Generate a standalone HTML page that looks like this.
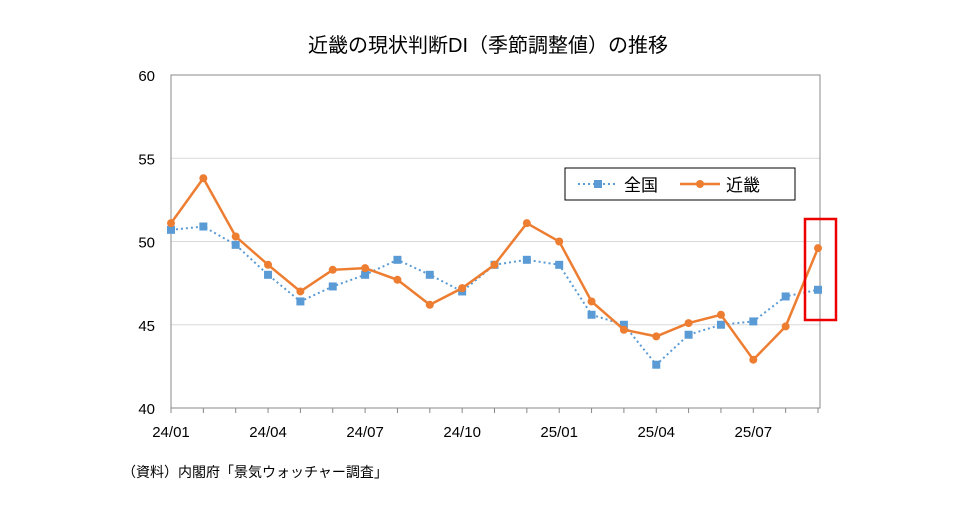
<!DOCTYPE html>
<html><head><meta charset="utf-8"><style>
body{margin:0;background:#fff;}
svg{font-family:"Liberation Sans","Noto Sans CJK JP",sans-serif;}
</style></head><body>
<svg id="c" width="977" height="519"></svg>
<script>
const categories=["24/01","24/02","24/03","24/04","24/05","24/06","24/07","24/08","24/09","24/10","24/11","24/12","25/01","25/02","25/03","25/04","25/05","25/06","25/07","25/08","25/09"];
const zenkoku=[50.7,50.9,49.8,48.0,46.4,47.3,48.0,48.9,48.0,47.0,48.6,48.9,48.6,45.6,45.0,42.6,44.4,45.0,45.2,46.7,47.1];
const kinki=[51.1,53.8,50.3,48.6,47.0,48.3,48.4,47.7,46.2,47.2,48.6,51.1,50.0,46.4,44.7,44.3,45.1,45.6,42.9,44.9,49.6];
const yTicks=[40,45,50,55,60];
const xTickLabels=["24/01","24/04","24/07","24/10","25/01","25/04","25/07"];
const NS="http://www.w3.org/2000/svg";
const svg=document.getElementById('c');
const L=171,R=820,T=75,B=408,step=32.35;
const x=i=>L+i*step;
const y=v=>B-(v-40)/20*(B-T);
function el(t,a,p){const e=document.createElementNS(NS,t);for(const k in a)e.setAttribute(k,a[k]);(p||svg).appendChild(e);return e;}
let t=el('text',{x:488,y:52,'text-anchor':'middle','font-size':20,fill:'#000'});t.textContent='近畿の現状判断DI（季節調整値）の推移';


yTicks.forEach(v=>{
 const g=el('line',{x1:L,x2:R,y1:y(v),y2:y(v),stroke:v==40?'#888':'#d9d9d9'});
 
 
 const tx=el('text',{x:155,y:y(v)+6,'text-anchor':'end','font-size':15});tx.textContent=v;
 
 
});
let ax=el('rect',{x:L,y:T,width:R-L,height:B-T,fill:'none',stroke:'#888'});


categories.forEach((c,i)=>{
 const tk=el('line',{x1:x(i),x2:x(i),y1:B,y2:B+5,stroke:'#888'});
 
 
 if(xTickLabels.includes(c)){
  const tx=el('text',{x:x(i),y:B+29,'text-anchor':'middle','font-size':15});tx.textContent=c;
  
  
 }
});
function series(data,color,dash,marker,name){
 const p=el('polyline',{points:data.map((v,i)=>x(i)+','+y(v)).join(' '),fill:'none',stroke:color,'stroke-width':dash?2:2.5,'stroke-dasharray':dash||'none'});
 
 
 data.forEach((v,i)=>{
  let m;
  if(marker=='sq')m=el('rect',{x:x(i)-4,y:y(v)-4,width:8,height:8,fill:color});
  else m=el('circle',{cx:x(i),cy:y(v),r:4,fill:color});
  
  
 });
}
series(zenkoku,'#5b9bd5','2,3','sq','zenkoku');
series(kinki,'#ed7d31',null,'ci','kinki');
const hl=el('rect',{x:805,y:219,width:31,height:101,fill:'none',stroke:'#e00','stroke-width':2.5});


const lg=el('rect',{x:565,y:168,width:230,height:32,fill:'#fff',stroke:'#000'});


el('line',{x1:578,x2:618,y1:184,y2:184,stroke:'#5b9bd5','stroke-width':2,'stroke-dasharray':'2,3'});
el('rect',{x:594,y:180,width:8,height:8,fill:'#5b9bd5'});
let l1=el('text',{x:624,y:191,'font-size':17});l1.textContent='全国';


el('line',{x1:680,x2:720,y1:184,y2:184,stroke:'#ed7d31','stroke-width':2.5});
el('circle',{cx:700,cy:184,r:4,fill:'#ed7d31'});
let l2=el('text',{x:726,y:191,'font-size':17});l2.textContent='近畿';


let s=el('text',{x:122,y:477,'font-size':14});s.textContent='（資料）内閣府「景気ウォッチャー調査」';


</script>
</body></html>
